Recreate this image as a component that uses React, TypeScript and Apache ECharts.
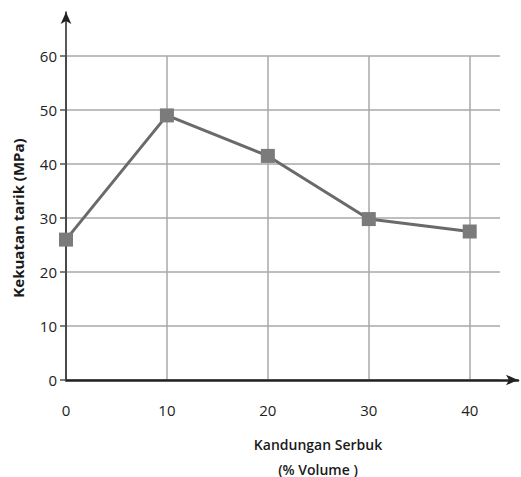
import React, { useEffect, useRef } from "react";
import * as echarts from "echarts";

const xValues = [0, 10, 20, 30, 40];
const strength = [26, 49, 41.5, 29.8, 27.5];
const yTicks = { min: 0, max: 60, interval: 10 };
const xTicks = { min: 0, max: 43, interval: 10 };
const xAxisName = ["Kandungan Serbuk", "(% Volume )"];
const yAxisName = "Kekuatan tarik (MPa)";

const FONT = "'Open Sans', 'Liberation Sans', sans-serif";

export default function App() {
  const ref = useRef<HTMLDivElement>(null);
  useEffect(() => {
    if (!ref.current) return;
    const chart = echarts.init(ref.current, null, { renderer: "svg" });
    const data = xValues.map((x, i) => [x, strength[i]]);
    chart.setOption({
      animation: false,
      backgroundColor: "#ffffff",
      textStyle: { fontFamily: FONT },
      grid: [
        { left: 66, top: 56, width: 434, height: 324 },
        { left: 66, top: 12, right: 3, bottom: 97 },
      ],
      xAxis: [
        {
          type: "value",
          gridIndex: 0,
          min: xTicks.min,
          max: xTicks.max,
          interval: xTicks.interval,
          axisLine: { show: false },
          axisTick: { show: false },
          axisLabel: {
            showMaxLabel: false,
            margin: 22,
            fontSize: 15,
            color: "#222",
            fontFamily: FONT,
            formatter: (v: number) => (v % 10 === 0 ? String(v) : ""),
          },
          splitLine: {
            show: true,
            showMaxLine: false,
            lineStyle: { color: "#a8a8a8", width: 1.5 },
          },
        },
        {
          type: "value",
          gridIndex: 1,
          min: 0,
          max: 1,
          axisLine: {
            show: true,
            onZero: false,
            symbol: ["none", "arrow"],
            symbolSize: [8, 12],
            lineStyle: { color: "#222", width: 2.5 },
          },
          axisTick: { show: false },
          axisLabel: { show: false },
          splitLine: { show: false },
        },
      ],
      yAxis: [
        {
          type: "value",
          gridIndex: 0,
          min: yTicks.min,
          max: yTicks.max,
          interval: yTicks.interval,
          axisLine: { show: false },
          axisTick: {
            show: true,
            length: 6,
            lineStyle: { color: "#555", width: 1.5 },
          },
          axisLabel: {
            margin: 9,
            fontSize: 15,
            color: "#222",
            fontFamily: FONT,
          },
          splitLine: {
            show: true,
            lineStyle: { color: "#a8a8a8", width: 1.5 },
          },
        },
        {
          type: "value",
          gridIndex: 1,
          min: 0,
          max: 1,
          axisLine: {
            show: true,
            onZero: false,
            symbol: ["none", "arrow"],
            symbolSize: [8, 12],
            lineStyle: { color: "#222", width: 1.5 },
          },
          axisTick: { show: false },
          axisLabel: { show: false },
          splitLine: { show: false },
        },
      ],
      graphic: [
        {
          type: "text",
          x: 18,
          y: 218,
          rotation: Math.PI / 2,
          style: {
            text: yAxisName,
            fontSize: 15,
            fontWeight: "bold",
            fill: "#1a1a1a",
            fontFamily: FONT,
            textAlign: "center",
            textVerticalAlign: "middle",
          },
        },
        {
          type: "text",
          x: 318,
          y: 444,
          style: {
            text: xAxisName[0],
            fontSize: 14,
            fontWeight: 600,
            fill: "#1a1a1a",
            fontFamily: FONT,
            textAlign: "center",
            textVerticalAlign: "middle",
          },
        },
        {
          type: "text",
          x: 318,
          y: 469,
          style: {
            text: xAxisName[1],
            fontSize: 14,
            fontWeight: 600,
            fill: "#1a1a1a",
            fontFamily: FONT,
            textAlign: "center",
            textVerticalAlign: "middle",
          },
        },
      ],
      series: [
        {
          type: "line",
          xAxisIndex: 0,
          yAxisIndex: 0,
          data,
          symbol: "rect",
          symbolSize: 14,
          itemStyle: { color: "#7b7b7b" },
          lineStyle: { color: "#6a6a6a", width: 3 },
          z: 5,
        },
      ],
    });
    return () => chart.dispose();
  }, []);
  return (
    <div
      ref={ref}
      style={{ position: "fixed", left: 0, top: 0, width: 521, height: 477 }}
    />
  );
}
